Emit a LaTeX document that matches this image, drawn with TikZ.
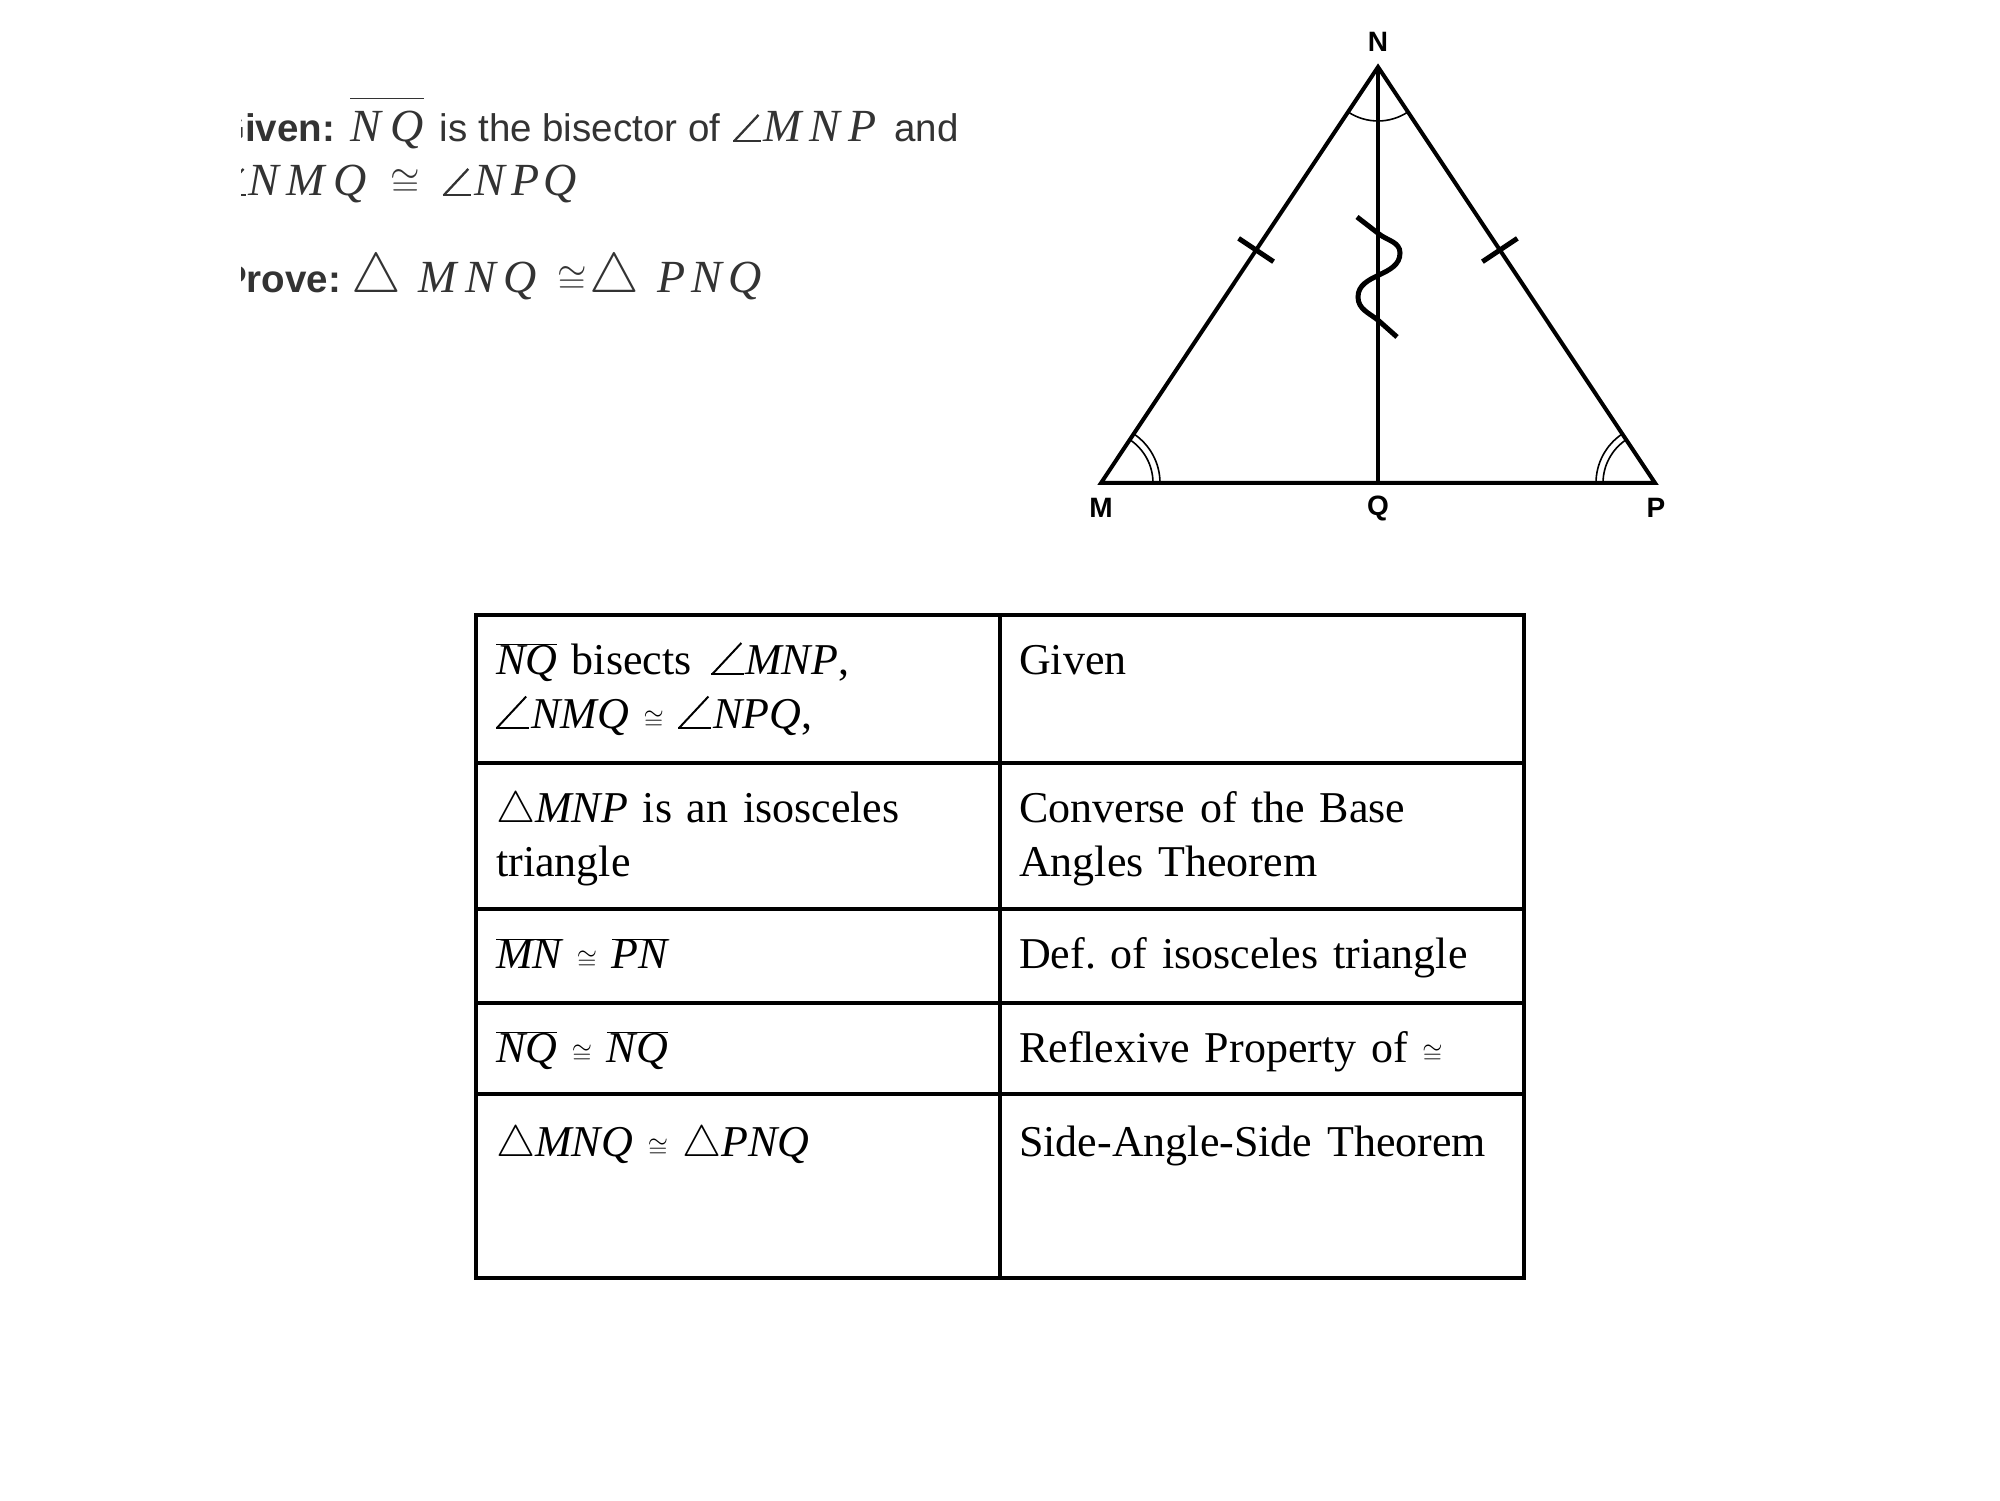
\RequirePackage{fix-cm}
\documentclass[tikz,border=0pt]{standalone}
\usepackage{graphicx}
\usepackage{fontspec}
\setmainfont{Liberation Serif}
\setsansfont{Liberation Sans}
\usetikzlibrary{calc}

\newcommand{\topsize}{\fontsize{38.5}{44}\selectfont}
\newcommand{\mjx}[1]{{\fontsize{46}{50}\selectfont\rmfamily\itshape #1}}
\newcommand{\scong}{{\fontsize{26}{26}\selectfont$\cong$}}
\newcommand{\tcong}{{\fontsize{38}{38}\selectfont$\cong$}}
\newcommand{\ttri}{{\fontsize{56}{56}\selectfont$\triangle$}}
\newcommand{\seg}[1]{$\overline{\mbox{\itshape #1}}$}
\newcommand{\angwd}{0.05em}
\newcommand{\ang}{\mbox{\rule{0.6em}{\angwd}\hspace{-0.6em}\rotatebox{47}{\rule{0.78em}{\angwd}}\hspace{0.04em}}}
\newcommand{\bang}{{\fontsize{55}{55}\selectfont\renewcommand{\angwd}{0.036em}\ang}}

\tikzset{
  side/.style={line width=4pt, line join=miter},
  tickmark/.style={line width=5pt},
  anglearc/.style={line width=1.6pt},
  vlabel/.style={font=\fontsize{28}{30}\selectfont\sffamily\bfseries, inner sep=0pt},
  gridline/.style={line width=4pt},
  cell/.style={anchor=base west, inner sep=0pt, text width=480pt, align=left,
    font=\fontsize{44}{53.6}\selectfont\frenchspacing},
  topline/.style={anchor=base west, inner sep=0pt, text=black!80, font=\topsize\sffamily},
}

\begin{document}
\begin{tikzpicture}[x=1pt,y=1pt]
\fill[white] (0,0) rectangle (2000,1500);
\useasboundingbox (0,0) rectangle (2000,1500);

% given / prove, cut at the left edge
\begin{scope}
\clip (241,1100) rectangle (1000,1460);
\node[topline] (given) at (215,1358) {{\bfseries Given:}\hspace{15pt}\mjx{$\overline{\mbox{\rule{0pt}{42pt}N\kern10pt Q}}$}\hspace{16pt}is the bisector of\hspace{13pt}\mjx{\ang\kern2pt M\kern8pt N\kern8pt P}\hspace{18pt}and};
\node[topline] (given2) at (218,1304) {\mjx{\ang\kern2pt N\kern8pt M\kern8pt Q\hspace{24pt}\tcong\hspace{23pt}\ang\kern4pt N\kern6pt P\kern4pt Q}};
\node[topline] (prove) at (221,1207) {{\bfseries Prove:}\hspace{10pt}\mjx{\ttri\hspace{18pt}M\kern8pt N\kern8pt Q\hspace{20pt}\tcong\hspace{3pt}\ttri\hspace{18pt}P\kern6pt N\kern6pt Q}};
\end{scope}

% triangle
\coordinate (N) at (1378,1433);
\coordinate (M) at (1101,1017);
\coordinate (P) at (1655,1017);
\coordinate (Q) at (1378,1017);
\draw[side] (M) -- (N) -- (P) -- cycle;
\draw[side] (N) -- (Q);
\node[vlabel] (labN) at (1378,1458) {N};
\node[vlabel] (labM) at (1101,992) {M};
\node[vlabel] (labQ) at (1378,992) {Q};
\node[vlabel] (labP) at (1656,992) {P};

% equal sides
\coordinate (t1) at ($(N)!0.44!(M)$);
\coordinate (t2) at ($(N)!0.44!(P)$);
\draw[tickmark] ($(t1)!21pt!90:(M)$) -- ($(t1)!21pt!-90:(M)$);
\draw[tickmark] ($(t2)!21pt!90:(P)$) -- ($(t2)!21pt!-90:(P)$);

% common side
\draw[line width=5pt] (1357,1283) -- (1379,1266) to[out=-38,in=90] (1400,1247)
  to[out=-90,in=90] (1358,1203) to[out=-90,in=140] (1379,1179) -- (1397,1163);

% angles
\draw[anglearc] (N) ++(236.3:54) arc (236.3:303.7:54);
\foreach \r in {52,59} {
 \draw[anglearc] (M) ++(0:\r) arc (0:56.3:\r);
 \draw[anglearc] (P) ++(123.7:\r) arc (123.7:180:\r);
}

% proof table
\draw[gridline] (476,885) rectangle (1524,222);
\draw[gridline] (1000,885) -- (1000,222);
\foreach \y in {737,591,497,406}
 \draw[gridline] (476,\y) -- (1524,\y);

\node[cell] (r1a) at (496,825) {\seg{NQ} bisects~\hspace{5pt}\bang\kern1pt\textit{MNP},\\ \bang\kern2pt\textit{NMQ} \scong{} \bang\kern2pt\textit{NPQ},};
\node[cell] (r1b) at (1019,825) {Given};
\node[cell] (r2a) at (496,677) {$\triangle$\textit{MNP} is an isosceles\\ triangle};
\node[cell] (r2b) at (1019,677) {Converse of the Base\\ Angles Theorem};
\node[cell] (r3a) at (496,531) {\seg{MN} \scong{} \seg{PN}};
\node[cell] (r3b) at (1019,531) {Def. of isosceles triangle};
\node[cell] (r4a) at (496,437) {\seg{NQ} \scong{} \seg{NQ}};
\node[cell] (r4b) at (1019,437) {Reflexive Property of \scong};
\node[cell] (r5a) at (496,343) {$\triangle$\textit{MNQ} \scong{} $\triangle$\textit{PNQ}};
\node[cell] (r5b) at (1019,343) {Side-Angle-Side Theorem};
\end{tikzpicture}
\end{document}
